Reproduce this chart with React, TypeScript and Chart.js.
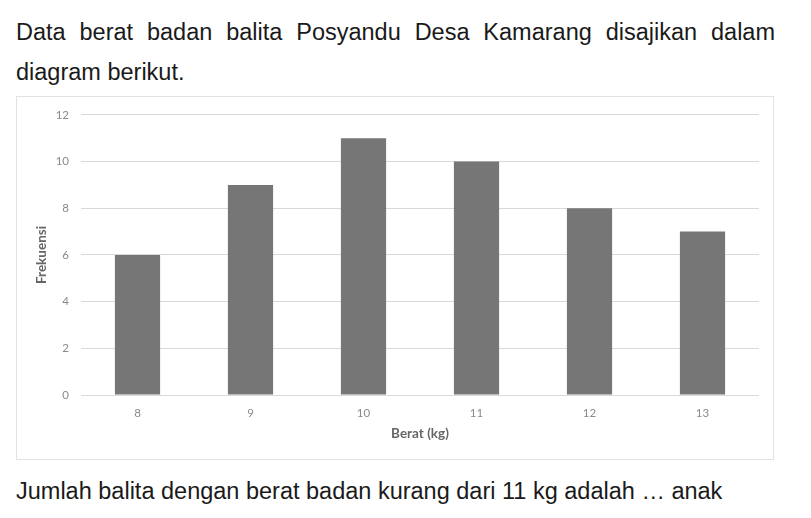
import React, { useEffect, useRef } from "react";
import { Chart, registerables } from "chart.js";

Chart.register(...registerables);

const categories = ["8", "9", "10", "11", "12", "13"];
const frequencies = [6, 9, 11, 10, 8, 7];
const yTicks = [0, 2, 4, 6, 8, 10, 12];
const xTitle = "Berat (kg)";
const yTitle = "Frekuensi";
const introText = "Data berat badan balita Posyandu Desa Kamarang disajikan dalam diagram berikut.";
const questionText = "Jumlah balita dengan berat badan kurang dari 11 kg adalah … anak";

export default function App() {
  const canvasRef = useRef<HTMLCanvasElement | null>(null);

  useEffect(() => {
    document.body.style.margin = "0";
    const canvas = canvasRef.current;
    if (!canvas) return;
    const chart = new Chart(canvas, {
      type: "bar",
      data: {
        labels: categories,
        datasets: [
          {
            data: frequencies,
            backgroundColor: "#767676",
            borderWidth: 0,
            barPercentage: 0.4,
            categoryPercentage: 1,
          },
        ],
      },
      options: {
        animation: false,
        responsive: false,
        devicePixelRatio: 1,
        layout: { padding: { left: 0, right: 15, top: 14, bottom: 15 } },
        plugins: { legend: { display: false }, tooltip: { enabled: false } },
        scales: {
          x: {
            grid: { display: false, drawTicks: false },
            border: { display: false },
            ticks: {
              color: "#8a8a8a",
              font: { family: "Lato", size: 11.5 },
              padding: 11,
            },
            title: {
              display: true,
              text: xTitle,
              color: "#666666",
              font: { family: "Lato", size: 13.5, weight: "bold" },
              padding: { top: 0, bottom: 3 },
            },
            afterFit: (scale: any) => {
              scale.height = 50;
            },
          },
          y: {
            min: 0,
            max: 12,
            afterBuildTicks: (scale: any) => {
              scale.ticks = yTicks.map((v) => ({ value: v }));
            },
            grid: { color: "#d9d9d9", drawTicks: false, lineWidth: 1 },
            border: { display: false },
            ticks: {
              color: "#8a8a8a",
              font: { family: "Lato", size: 11.5 },
              padding: 12,
            },
            title: {
              display: true,
              text: yTitle,
              color: "#666666",
              font: { family: "Lato", size: 13.5, weight: "bold" },
              padding: { top: 18, bottom: 0 },
            },
            afterFit: (scale: any) => {
              scale.width = 65;
            },
          },
        },
      },
    });
    return () => chart.destroy();
  }, []);

  const textStyle: React.CSSProperties = {
    position: "absolute",
    left: 16,
    width: 759,
    fontFamily: "'Liberation Sans', Arial, sans-serif",
    fontSize: 23.5,
    color: "#1a1a1a",
    margin: 0,
  };

  return (
    <div style={{ position: "relative", width: 811, height: 518, background: "#ffffff", overflow: "hidden" }}>
      <p style={{ ...textStyle, top: 12, lineHeight: "40px", textAlign: "justify" }}>{introText}</p>
      <div
        style={{
          position: "absolute",
          left: 16,
          top: 96,
          width: 758,
          height: 364,
          border: "1px solid #e2e2e2",
          boxSizing: "border-box",
        }}
      />
      <canvas
        ref={canvasRef}
        width={758}
        height={364}
        style={{ position: "absolute", left: 16, top: 96, width: 758, height: 364 }}
      />
      <p style={{ ...textStyle, top: 476, lineHeight: "30px", whiteSpace: "nowrap" }}>{questionText}</p>
    </div>
  );
}
